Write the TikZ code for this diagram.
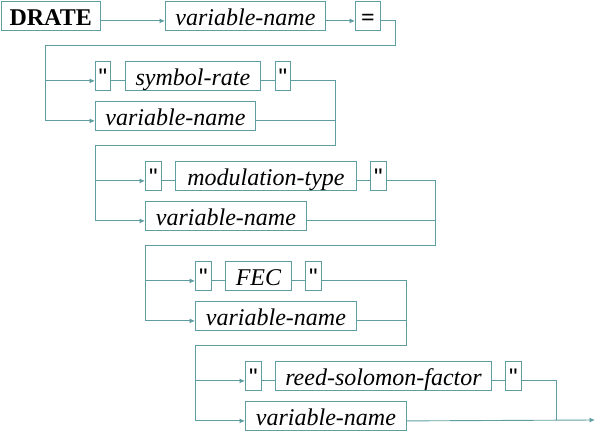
\documentclass[tikz,border=0pt]{standalone}
\usepackage{fontspec}
\setmainfont{Liberation Serif}
\newfontfamily\quotefont{Liberation Sans}
\usetikzlibrary{arrows.meta}
\definecolor{cb}{RGB}{95,158,160}
\newcommand{\dq}{{\quotefont\char34\relax}}
\tikzset{
  box/.style={draw=cb, line width=0.9pt, inner sep=0pt, text height=24pt, text depth=5pt,
    anchor=north west, font=\fontsize{24}{24}\selectfont\itshape},
  lit/.style={box, font=\fontsize{24}{24}\selectfont},
  kw/.style={box, font=\fontsize{24}{24}\selectfont\bfseries},
  conn/.style={draw=cb, line width=0.9pt},
  arr/.style={conn, -{Latex[length=5.5pt,width=5pt]}}
}
\begin{document}
\begin{tikzpicture}[x=1pt,y=-1pt]
\useasboundingbox (0,0) rectangle (596,433);
% row 0
\node[kw, minimum width=99.5pt] (drate) at (0.5,1) {DRATE};
\node[box, minimum width=160pt] (vn0) at (165,1) {variable-name};
\node[kw, minimum width=25pt] (eq) at (355,1) {=};
% row 1
\node[lit, minimum width=15pt] (q1a) at (95,61) {\dq};
\node[box, minimum width=135pt] (sr) at (125,61) {symbol-rate};
\node[lit, minimum width=15pt] (q1b) at (275,61) {\dq};
\node[box, minimum width=160pt] (vn1) at (95,101) {variable-name};
% row 2
\node[lit, minimum width=16pt] (q2a) at (145,161) {\dq};
\node[box, minimum width=181pt] (mt) at (175,161) {modulation-type};
\node[lit, minimum width=16pt] (q2b) at (370,161) {\dq};
\node[box, minimum width=161pt] (vn2) at (145,201) {variable-name};
% row 3
\node[lit, minimum width=16pt] (q3a) at (195,261) {\dq};
\node[box, minimum width=66pt] (fec) at (225,261) {FEC};
\node[lit, minimum width=16pt] (q3b) at (305,261) {\dq};
\node[box, minimum width=161pt] (vn3) at (195,301) {variable-name};
% row 4
\node[lit, minimum width=16pt] (q4a) at (245,361) {\dq};
\node[box, minimum width=216pt] (rs) at (275,361) {reed-solomon-factor};
\node[lit, minimum width=16pt] (q4b) at (505,361) {\dq};
\node[box, minimum width=161pt] (vn4) at (245,401) {variable-name};
% connection points
\foreach \n in {drate,vn0,eq,q1a,sr,q1b,vn1,q2a,mt,q2b,vn2,q3a,fec,q3b,vn3,q4a,rs,q4b,vn4}{
  \coordinate (\n-i) at ([yshift=10pt]\n.south west);
  \coordinate (\n-o) at ([yshift=10pt]\n.south east);
}
\coordinate (c0r) at (395,45); \coordinate (c0l) at (45,45);
\coordinate (c1r) at (335,145); \coordinate (c1l) at (95,145);
\coordinate (c2r) at (435,245); \coordinate (c2l) at (145,245);
\coordinate (c3r) at (406,345); \coordinate (c3l) at (195,345);
\coordinate (j4) at (556,420);
\coordinate (end) at (595,420);
% row 0
\draw[arr] (drate-o) -- (vn0-i);
\draw[arr] (vn0-o) -- (eq-i);
\draw[arr] (eq-o) -| (c0r) -- (c0l) |- (vn1-i);
% row 1
\draw[arr] (c0l |- q1a-i) -- (q1a-i);
\draw[conn] (q1a-o) -- (sr-i);
\draw[conn] (sr-o) -- (q1b-i);
\draw[conn] (vn1-o) -| (c1r);
\draw[arr] (q1b-o) -| (c1r) -- (c1l) |- (vn2-i);
% row 2
\draw[arr] (c1l |- q2a-i) -- (q2a-i);
\draw[conn] (q2a-o) -- (mt-i);
\draw[conn] (mt-o) -- (q2b-i);
\draw[conn] (vn2-o) -| (c2r);
\draw[arr] (q2b-o) -| (c2r) -- (c2l) |- (vn3-i);
% row 3
\draw[arr] (c2l |- q3a-i) -- (q3a-i);
\draw[conn] (q3a-o) -- (fec-i);
\draw[conn] (fec-o) -- (q3b-i);
\draw[conn] (vn3-o) -| (c3r);
\draw[arr] (q3b-o) -| (c3r) -- (c3l) |- (vn4-i);
% row 4
\draw[arr] (c3l |- q4a-i) -- (q4a-i);
\draw[conn] (q4a-o) -- (rs-i);
\draw[conn] (rs-o) -- (q4b-i);
\draw[conn] (q4b-o) -| (j4);
\draw[arr] (vn4-o) -- (end);
\end{tikzpicture}
\end{document}
